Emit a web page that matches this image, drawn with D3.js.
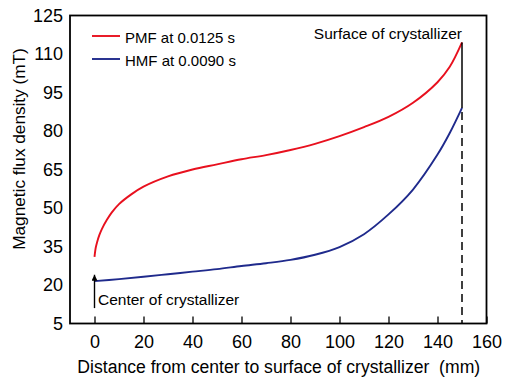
<!DOCTYPE html>
<html>
<head>
<meta charset="utf-8">
<script src="https://cdn.jsdelivr.net/npm/d3@7"></script>
<style>
  html, body { margin: 0; padding: 0; background: #fff; }
  svg { display: block; font-family: "Liberation Sans", Arial, sans-serif; }
</style>
</head>
<body>
<svg id="chart" width="506" height="381"></svg>
<script>
// Magnetic flux density profiles across the crystallizer radius
const distance_pmf = [0, 0.5, 1, 2, 3, 5, 7, 10, 15, 20, 30, 40, 50, 60, 70, 80, 90, 100, 110, 120, 130, 140, 145, 150];
const flux_pmf     = [31, 34.5, 36.5, 39.5, 41.8, 45.3, 48.2, 51.5, 55.3, 58.3, 62.3, 65, 67, 69, 70.6, 72.6, 75, 78, 81.5, 85.5, 91, 99, 105, 114.5];

const distance_hmf = [0, 10, 20, 30, 40, 50, 60, 70, 80, 90, 100, 110, 120, 130, 140, 145, 150];
const flux_hmf     = [21.5, 22.3, 23.2, 24.2, 25.2, 26.2, 27.4, 28.5, 29.8, 31.8, 34.8, 39.8, 47.5, 57.2, 70.8, 79.2, 89];

const seriesNames = ["PMF at 0.0125 s", "HMF at 0.0090 s"];
const seriesColors = ["#e8101e", "#1f2a8c"];

const xTicks = [0, 20, 40, 60, 80, 100, 120, 140, 160];
const yTicks = [5, 20, 35, 50, 65, 80, 95, 110, 125];

const centerLabel = "Center of crystallizer";
const surfaceLabel = "Surface of crystallizer";
const surfaceX = 150;
const centerArrow = [11, 24];   // flux range spanned by the centre arrow

const svg = d3.select("#chart");
const margin = { left: 70, right: 19.5, top: 15.5, bottom: 57.5 };
const W = 506, H = 381;

const x = d3.scaleLinear().domain([-10, 160]).range([margin.left, W - margin.right]);
const y = d3.scaleLinear().domain([5, 125]).range([H - margin.bottom, margin.top]);

// arrow marker
svg.append("defs").append("marker")
  .attr("id", "arrowhead")
  .attr("viewBox", "0 0 10 10")
  .attr("refX", 10).attr("refY", 5)
  .attr("markerWidth", 6).attr("markerHeight", 6)
  .attr("markerUnits", "userSpaceOnUse")
  .attr("orient", "auto")
  .append("path").attr("d", "M0,0 L10,5 L0,10 Z").attr("fill", "#000");

// x axis: inward ticks, labels below
const xAxis = d3.axisBottom(x).tickValues(xTicks).tickSize(-7).tickPadding(12);
const gx = svg.append("g").attr("transform", `translate(0,${y(5)})`).call(xAxis);
gx.select(".domain").remove();
gx.selectAll(".tick line").attr("stroke", "#000").attr("stroke-width", 1.3);
gx.selectAll(".tick text").attr("font-size", 18).attr("fill", "#000")
  .attr("font-family", "Liberation Sans, Arial, sans-serif");

// y axis: labels only
const yAxis = d3.axisLeft(y).tickValues(yTicks).tickSize(0).tickPadding(7);
const gy = svg.append("g").attr("transform", `translate(${x(-10)},0)`).call(yAxis);
gy.select(".domain").remove();
gy.selectAll(".tick text").attr("font-size", 18).attr("fill", "#000")
  .attr("font-family", "Liberation Sans, Arial, sans-serif");

// plot frame
svg.append("rect")
  .attr("x", x(-10)).attr("y", y(125))
  .attr("width", x(160) - x(-10)).attr("height", y(5) - y(125))
  .attr("fill", "none").attr("stroke", "#000").attr("stroke-width", 1.8);

// curves
const line = d3.line().x(d => x(d[0])).y(d => y(d[1])).curve(d3.curveCatmullRom.alpha(0.5));
const seriesData = [
  d3.zip(distance_pmf, flux_pmf),
  d3.zip(distance_hmf, flux_hmf)
];
seriesData.forEach((pts, i) => {
  svg.append("path").datum(pts)
    .attr("d", line)
    .attr("fill", "none")
    .attr("stroke", seriesColors[i])
    .attr("stroke-width", 1.9);
});

// surface marker: solid between the two curves, dashed down to the axis
const pmfEnd = flux_pmf[flux_pmf.length - 1];
const hmfEnd = flux_hmf[flux_hmf.length - 1];
svg.append("line")
  .attr("x1", x(surfaceX)).attr("x2", x(surfaceX))
  .attr("y1", y(pmfEnd)).attr("y2", y(hmfEnd))
  .attr("stroke", "#000").attr("stroke-width", 1.5);
svg.append("line")
  .attr("x1", x(surfaceX)).attr("x2", x(surfaceX))
  .attr("y1", y(hmfEnd) + 4).attr("y2", y(5))
  .attr("stroke", "#000").attr("stroke-width", 1.5)
  .attr("stroke-dasharray", "8,5");

svg.append("text")
  .attr("x", x(surfaceX)).attr("y", 39)
  .attr("text-anchor", "end")
  .attr("font-size", 15.5)
  .text(surfaceLabel);

// centre marker arrow
svg.append("line")
  .attr("x1", x(0)).attr("x2", x(0))
  .attr("y1", y(centerArrow[0])).attr("y2", y(centerArrow[1]))
  .attr("stroke", "#000").attr("stroke-width", 1.4)
  .attr("marker-end", "url(#arrowhead)");

svg.append("text")
  .attr("x", x(0) + 3.5).attr("y", 305)
  .attr("font-size", 15.5)
  .text(centerLabel);

// legend
const legend = svg.append("g");
seriesNames.forEach((name, i) => {
  const ly = 36 + i * 23;
  legend.append("line")
    .attr("x1", 92).attr("x2", 120)
    .attr("y1", ly).attr("y2", ly)
    .attr("stroke", seriesColors[i]).attr("stroke-width", 1.9);
  legend.append("text")
    .attr("x", 125).attr("y", ly + 7.3)
    .attr("font-size", 15)
    .text(name);
});

// axis titles
svg.append("text")
  .attr("x", (x(-10) + x(160)) / 2 + 0.5).attr("y", 372.5)
  .attr("text-anchor", "middle")
  .attr("font-size", 17.6)
  .style("white-space", "pre")
  .text("Distance from center to surface of crystallizer  (mm)");

svg.append("text")
  .attr("transform", `translate(25,149) rotate(-90)`)
  .attr("text-anchor", "middle")
  .attr("font-size", 17.2)
  .text("Magnetic flux density (mT)");
</script>
</body>
</html>
